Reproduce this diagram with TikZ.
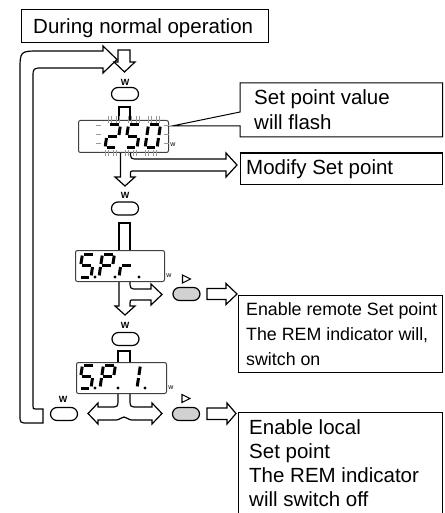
\documentclass[tikz,border=0pt]{standalone}
\usepackage{fontspec}
\setmainfont{Liberation Sans}
\def\sega{1.6/23/10.4/23}
\def\segb{12/21.4/12/13}
\def\segc{12/10/12/1.6}
\def\segd{1.6/0/10.4/0}
\def\sege{0/10/0/1.6}
\def\segf{0/21.4/0/13}
\def\segg{1.6/11.5/10.4/11.5}
\def\dseg#1/#2/#3/#4\relax{\draw[segline] (#1,#2) -- (#3,#4);}
\newcommand\dgt[3]{\begin{scope}[shift={(#1,#2)},xslant=0.15,yscale=-1]
  \foreach \s in {#3}{\expandafter\expandafter\expandafter\dseg\csname seg\s\endcsname\relax}
\end{scope}}
\newcommand\dpt[2]{\fill (#1,#2) circle (1.6pt);}
\begin{document}
\begin{tikzpicture}[x=1pt,y=-1pt,
  hol/.style={draw=black, line width=1.2pt, fill=white, line join=miter},
  box/.style={draw=black, line width=1pt},
  disp/.style={draw=black!75, line width=1pt, rounded corners=2pt, fill=white, inner sep=0pt, anchor=north west},
  segline/.style={line width=3pt, line cap=butt},
  flash/.style={draw=black!40, line width=0.6pt},
  oval/.style={draw=black, line width=1.2pt, rounded corners=6.5pt, minimum width=27pt, minimum height=13pt, inner sep=0pt, fill=white},
  goval/.style={oval, fill=black!18},
  wl/.style={font=\fontsize{9}{9}\selectfont\bfseries, inner sep=0pt},
  sw/.style={font=\fontsize{7}{7}\selectfont, inner sep=0pt},
  txtbig/.style={font=\fontsize{20.5}{24}\selectfont, inner sep=0pt, anchor=base west},
  txtmid/.style={font=\fontsize{17.8}{25}\selectfont, inner sep=0pt, anchor=base west},
  tri/.style={draw=black, line width=1.1pt, line join=miter}
]
\fill[white] (0,0) rectangle (444,513);
\useasboundingbox (0,0) rectangle (444,513);

% return loop
\draw[hol] (43,423) -- (28,423) .. controls (20,423) .. (20,415) -- (20,71)
  .. controls (20,51) .. (40,51) -- (103,51) -- (103,46) -- (117,59.5) -- (103,73)
  -- (103,68) -- (43,68) .. controls (33,68) .. (33,78) -- (33,406)
  .. controls (33,409) .. (36,409) -- (43,409) -- cycle;

% top box
\draw[box] (21,10) rectangle (268,43);
\node[txtbig] (t0) at (33,34) {During normal operation};

% first down arrow
\draw[hol] (118,50) -- (130,50) -- (130,62) -- (135,62) -- (124.5,72) -- (114,62) -- (118,62) -- cycle;
\node[wl] (w1) at (125,82) {W};
\node[oval] (o1) at (125,94) {};
\draw[hol] (119,121) -- (119,107) -- (130,107) -- (130,121);

% arrow below display 1 (down + branch to Modify)
\draw[hol] (130.5,151) .. controls (130.5,159) .. (138,159) -- (226,159) -- (226,153)
  -- (237,165) -- (226,177) -- (226,171) -- (134,171) .. controls (130.5,171) .. (130.5,174.5)
  -- (130.5,177) -- (135,177) -- (125,186) -- (115,177) -- (120.5,177) -- (120.5,151);

% display 1
\node[disp, minimum width=90pt, minimum height=32pt] (d1) at (78,120) {};
\foreach \x in {105,125,145}{
  \foreach \d in {3,6,11,14} \draw[flash] (\x+\d,116) -- (\x+\d,123);
  \foreach \d in {0,3,8,11} \draw[flash] (\x+\d,150) -- (\x+\d,156);
}
\foreach \y in {125,134,143}{
  \draw[flash] (96,\y) -- (101,\y);
  \draw[flash] (164,\y) -- (169,\y);
}
\dgt{105}{148}{a,b,g,e,d}
\dgt{125}{148}{a,f,g,c,d}
\dgt{145}{148}{a,b,c,d,e,f}
\node[sw] (s1) at (173,145) {w};

% callout
\draw[box, fill=white] (240,83) -- (442.5,83) -- (442.5,137) -- (240,137) -- (240,126) -- (172,126) -- (240,112) -- cycle;
\node[txtbig] (c1) at (254,105) {Set point value};
\node[txtbig] (c2) at (254,130) {will flash};

% modify
\draw[box] (240,153) rectangle (442.5,184);
\node[txtbig] (m1) at (246,175) {Modify Set point};

% second oval
\node[wl] (w2) at (125,195) {W};
\node[oval] (o2) at (125,208.5) {};
\draw[hol] (119,251) -- (119,223) -- (130,223) -- (130,251);

% arrow below display 2
\draw[hol] (130,280) .. controls (130,289) .. (137,289) -- (151,289) -- (151,284)
  -- (162,294.5) -- (151,305) -- (151,300) -- (134,300) .. controls (130,300) .. (130,303)
  -- (130,306) -- (135,306) -- (125,315) -- (115,306) -- (119,306) -- (119,280);

% display 2
\node[disp, minimum width=89pt, minimum height=31pt] (d2) at (75,250) {};
\dgt{79}{277}{a,f,g,c,d}\dpt{95}{277}
\dgt{99}{277}{a,b,f,g,e}\dpt{115}{277}
\dgt{119}{277}{e,g}\dpt{139}{277}
\node[sw] (s2) at (169,276) {w};

\draw[tri] (182.5,275) -- (190.5,279) -- (182.5,283) -- cycle;
\node[goval] (g2) at (186.5,294) {};
\draw[hol] (207,288.5) -- (226,288.5) -- (226,283.5) -- (237,294) -- (226,304.5) -- (226,299.5) -- (207,299.5) -- cycle;

\draw[box] (238,295) rectangle (442.5,372);
\node[txtmid] (r1) at (246,315) {Enable remote Set point};
\node[txtmid] (r2) at (246,340) {The REM indicator will,};
\node[txtmid] (r3) at (246,365) {switch on};

% third oval
\node[wl] (w3) at (125,325) {W};
\node[oval] (o3) at (125.5,339) {};
\draw[hol] (118,363) -- (118,351) -- (130,351) -- (130,363);

% split arrow below display 3
\draw[hol] (118,392) -- (118,399) .. controls (118,407) .. (110,407) -- (98,407) -- (98,403)
  -- (88,413.5) -- (98,424) -- (98,420) -- (116,420) .. controls (120,420) and (121,417) .. (124,417)
  .. controls (127,417) and (128,420) .. (132,420) -- (152,420) -- (152,424) -- (162,413.5)
  -- (152,403) -- (152,407) -- (138,407) .. controls (130,407) .. (130,399) -- (130,392);

% display 3
\node[disp, minimum width=90pt, minimum height=31pt] (d3) at (76,362) {};
\dgt{79}{388}{a,f,g,c,d}\dpt{95}{388}
\dgt{100}{388}{a,b,f,g,e}\dpt{118}{388}
\dgt{125}{388}{b,c}\dpt{145}{388}
\node[sw] (s3) at (171,388) {w};

% left oval
\node[wl] (w4) at (63,399) {W};
\node[oval] (o4) at (64,414) {};

% right
\draw[tri] (182,394.5) -- (190,398.5) -- (182,402.5) -- cycle;
\node[goval] (g3) at (186,414) {};
\draw[hol] (207,408) -- (227,408) -- (227,403) -- (236,413.5) -- (227,424) -- (227,419.5) -- (207,419.5) -- cycle;

\draw[box] (238,520) -- (238,412) -- (442.5,412) -- (442.5,520);
\node[txtbig] (l1) at (249,434) {Enable local};
\node[txtbig] (l2) at (249,458) {Set point};
\node[txtbig] (l3) at (249,482) {The REM indicator};
\node[txtbig] (l4) at (249,506) {will switch off};
\end{tikzpicture}
\end{document}
